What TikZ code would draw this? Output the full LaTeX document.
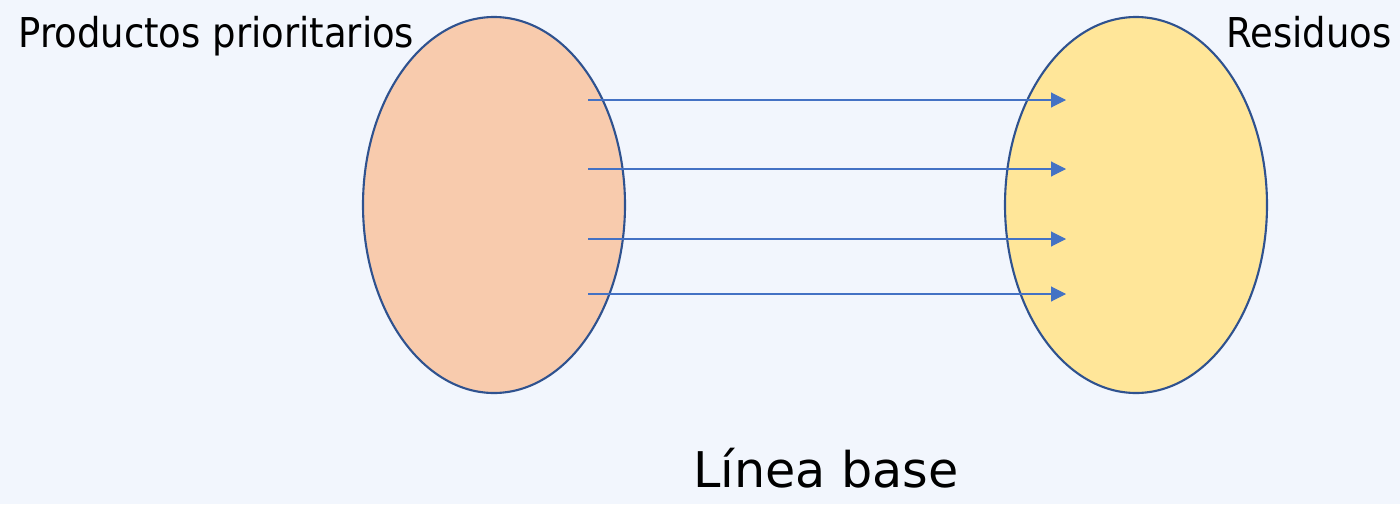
\documentclass[tikz,border=0pt]{standalone}
\usepackage{fontspec}
\setmainfont{DejaVu Sans}
\newfontfamily\narrowfont[FakeStretch=0.9]{DejaVu Sans}
\usetikzlibrary{arrows.meta,shapes.geometric}
\definecolor{bg}{HTML}{F2F6FD}
\definecolor{peach}{HTML}{F8CBAD}
\definecolor{gold}{HTML}{FFE699}
\definecolor{rim}{HTML}{2F528F}
\definecolor{arr}{HTML}{4472C4}
\tikzset{
  blob/.style={ellipse, draw=rim, line width=1.2pt, minimum width=262*0.02cm, minimum height=376*0.02cm, inner sep=0pt},
  link/.style={draw=arr, line width=0.6pt, -{Triangle[length=8.5pt,width=8.5pt]}},
  lbl/.style={inner sep=0pt, font=\narrowfont\fontsize{23.4}{26}\selectfont}
}
\begin{document}
\begin{tikzpicture}[x=0.02cm,y=-0.02cm]
\fill[bg] (0,0) rectangle (1400,504);
\useasboundingbox (0,0) rectangle (1400,504);
\node[blob, fill=peach] (L) at (494,205) {};
\node[blob, fill=gold] (R) at (1136,205) {};
\foreach \y [count=\i] in {100,169,239,294} {
  \coordinate (s\i) at (588,\y);
  \coordinate (e\i) at (1066,\y);
  \draw[link] (s\i) -- (e\i);
}
\node[lbl, anchor=base west] (t1) at (18,47) {Productos prioritarios};
\node[lbl, anchor=base east] (t2) at (1392,47) {Residuos};
\node[inner sep=0pt, font=\fontsize{28}{32}\selectfont, anchor=base] (t3) at (826,487) {Línea base};
\end{tikzpicture}
\end{document}
